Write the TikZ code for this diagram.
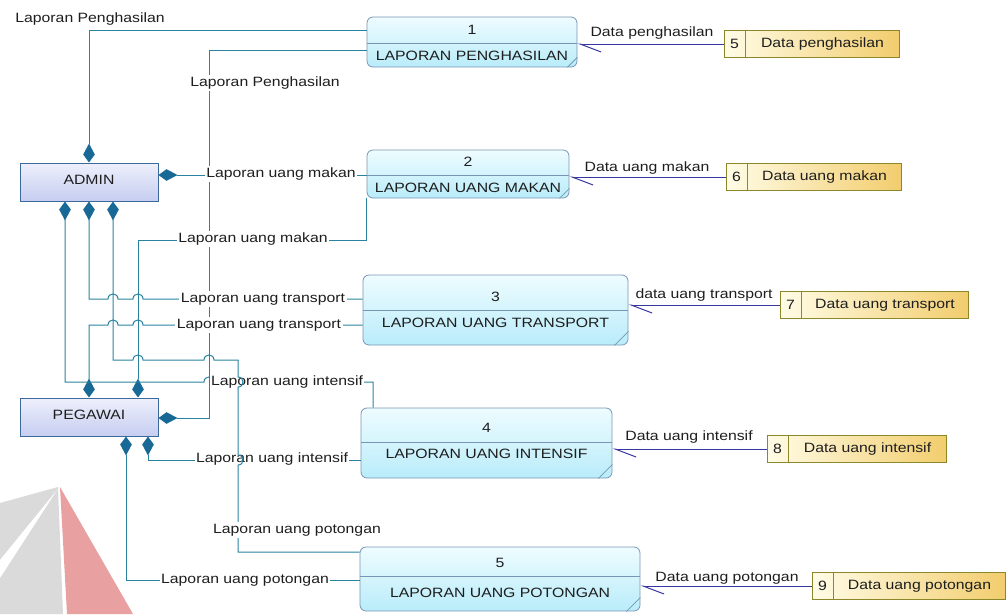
\documentclass[tikz,border=0pt]{standalone}
\usepackage{fontspec}
\setmainfont{Liberation Sans}[FakeStretch=1.17]
\usetikzlibrary{arrows.meta,calc}

\definecolor{flowc}{RGB}{40,130,160}
\definecolor{tipc}{RGB}{25,105,150}
\definecolor{dflowc}{RGB}{55,55,160}
\definecolor{txt}{RGB}{30,30,30}
\definecolor{entb}{RGB}{60,105,155}
\definecolor{entt}{RGB}{238,240,252}
\definecolor{entbo}{RGB}{198,205,240}
\definecolor{procb}{RGB}{120,150,180}
\definecolor{proct}{RGB}{238,252,255}
\definecolor{procbo}{RGB}{185,236,250}
\definecolor{storeb}{RGB}{140,135,40}
\definecolor{storel}{RGB}{255,252,230}
\definecolor{storer}{RGB}{242,205,110}
\definecolor{wmgray}{RGB}{218,218,218}
\definecolor{wmred}{RGB}{232,160,160}

\begin{document}
\begin{tikzpicture}[x=1pt,y=-1pt,
  font=\fontsize{13.5}{15}\selectfont, text=txt,
  entity/.style={draw=entb, line width=1pt, top color=entt, bottom color=entbo,
    minimum width=138pt, minimum height=38pt, inner sep=0pt},
  proc/.style={draw=procb, line width=0.8pt, rounded corners=6pt, top color=proct,
    bottom color=procbo, inner sep=0pt},
  procline/.style={draw=procb, line width=0.8pt},
  store/.style={draw=storeb, line width=0.8pt, left color=storel, right color=storer,
    minimum height=27pt, inner sep=0pt},
  storeline/.style={draw=storeb, line width=0.8pt},
  flow/.style={draw=flowc, line width=1pt,
    -{Stealth[length=8pt,width=11pt,inset=-11pt,fill=tipc,color=tipc]}},
  dflow/.style={draw=dflowc, line width=1pt,
    -{Straight Barb[left,length=21pt,width=16pt]}},
  lbl/.style={fill=white, inner sep=1.5pt},
  tx/.style={inner sep=0pt}
]
\useasboundingbox (0,0) rectangle (1008,614);

% watermark
\fill[wmgray] (0,503) -- (58,487) -- (63,614) -- (0,614) -- cycle;
\fill[white] (0,560) -- (57,490) -- (0,578) -- cycle;
\fill[wmred] (60,487) -- (133,614) -- (67,614) -- cycle;

% entities
\node[entity] (admin) at (89,182) {\raisebox{4pt}{ADMIN}};
\node[entity] (peg) at (89,417) {\raisebox{5pt}{PEGAWAI}};

% processes
\node[proc, minimum width=210pt, minimum height=50pt] (p1) at (472,42) {};
\draw[procline] (0,43 -| p1.west) -- (0,43 -| p1.east);
\draw[procline] ([xshift=-10pt]p1.south east) -- ([yshift=10pt]p1.south east);
\node[tx] (p1num) at (472,30) {1};
\node[tx] (p1name) at (472,56) {LAPORAN PENGHASILAN};

\node[proc, minimum width=202pt, minimum height=48pt] (p2) at (468,174) {};
\draw[procline] (0,175 -| p2.west) -- (0,175 -| p2.east);
\draw[procline] ([xshift=-10pt]p2.south east) -- ([yshift=10pt]p2.south east);
\node[tx] (p2num) at (468,162) {2};
\node[tx] (p2name) at (468,188) {LAPORAN UANG MAKAN};

\node[proc, minimum width=265pt, minimum height=70pt] (p3) at (495.5,310) {};
\draw[procline] (0,310 -| p3.west) -- (0,310 -| p3.east);
\draw[procline] ([xshift=-14pt]p3.south east) -- ([yshift=14pt]p3.south east);
\node[tx] (p3num) at (495.5,297) {3};
\node[tx] (p3name) at (495.5,323) {LAPORAN UANG TRANSPORT};

\node[proc, minimum width=251pt, minimum height=70pt] (p4) at (486.5,443) {};
\draw[procline] (0,442 -| p4.west) -- (0,442 -| p4.east);
\draw[procline] ([xshift=-14pt]p4.south east) -- ([yshift=14pt]p4.south east);
\node[tx] (p4num) at (486.5,428) {4};
\node[tx] (p4name) at (486.5,454) {LAPORAN UANG INTENSIF};

\node[proc, minimum width=280pt, minimum height=64pt] (p5) at (500,579) {};
\draw[procline] (0,576 -| p5.west) -- (0,576 -| p5.east);
\draw[procline] ([xshift=-14pt]p5.south east) -- ([yshift=14pt]p5.south east);
\node[tx] (p5num) at (500,563) {5};
\node[tx] (p5name) at (500,593) {LAPORAN UANG POTONGAN};

% data stores
\node[store, minimum width=175pt] (s5) at (811.5,44) {};
\node[store, minimum width=175pt] (s6) at (813.5,177) {};
\node[store, minimum width=188pt] (s7) at (874,305) {};
\node[store, minimum width=179pt] (s8) at (856.5,449) {};
\node[store, minimum width=193pt] (s9) at (908.5,586) {};
\foreach \s/\n/\t in {s5/5/Data penghasilan, s6/6/Data uang makan, s7/7/Data uang transport, s8/8/Data uang intensif, s9/9/Data uang potongan}{
  \draw[storeline] ([xshift=22pt]\s.north west) -- ([xshift=22pt]\s.south west);
  \node[tx] (\s num) at ([xshift=11pt]\s.west) {\n};
  \node[tx] (\s name) at ($([xshift=22pt]\s.west)!0.5!(\s.east)$) {\t};
}

% data flows from stores
\draw[dflow] (s5.west) -- (s5.west -| p1.east);
\draw[dflow] (s6.west) -- (s6.west -| p2.east);
\draw[dflow] (s7.west) -- (s7.west -| p3.east);
\draw[dflow] (s8.west) -- (s8.west -| p4.east);
\draw[dflow] (s9.west) -- (s9.west -| p5.east);
\node[tx] (d1) at (652,33) {Data penghasilan};
\node[tx] (d2) at (647,168) {Data uang makan};
\node[tx] (d3) at (704,295) {data uang transport};
\node[tx] (d4) at (689,437) {Data uang intensif};
\node[tx] (d5) at (727,578) {Data uang potongan};

% P1 flows
\draw[flow] (0,30 -| p1.west) -- (89,30) -- (89,0 |- admin.north);
\draw[flow] (0,50 -| p1.west) -- (209,50) -- (209,418) -- (peg.east |- 0,418);
% P2 flows
\draw[flow] (0,175 -| p2.west) -- (admin.east |- 0,175);
\draw[flow] (p2.south west) -- (p2.south west |- 0,240) -- (138,240) -- (138,0 |- peg.north);
% P3 flows
\draw[flow] (0,299 -| p3.west) -- (143,299) .. controls (143,292.3) and (133,292.3) .. (133,299)
  -- (118,299) .. controls (118,292.3) and (108,292.3) .. (108,299) -- (89,299) -- (89,0 |- admin.south);
\draw[flow] (0,325 -| p3.west) -- (143,325) .. controls (143,318.3) and (133,318.3) .. (133,325)
  -- (118,325) .. controls (118,318.3) and (108,318.3) .. (108,325) -- (89,325) -- (89,0 |- peg.north);
% P4 flows
\draw[flow] (373,0 |- p4.north) -- (373,382) -- (214,382) .. controls (214,375.3) and (204,375.3) .. (204,382)
  -- (65,382) -- (65,0 |- admin.south);
\draw[flow] (0,460 -| p4.west) -- (148,460) -- (148,0 |- peg.south);

% labels P1-P4
\node[lbl] (l1a) at (90,19) {Laporan Penghasilan};
\node[lbl] (l1b) at (265,83) {Laporan Penghasilan};
\node[lbl] (l2a) at (281,174) {Laporan uang makan};
\node[lbl] (l2b) at (253,239) {Laporan uang makan};
\node[lbl] (l3a) at (263,299) {Laporan uang transport};
\node[lbl] (l3b) at (259,325) {Laporan uang transport};
\node[lbl] (l4a) at (287,382) {Laporan uang intensif};
\node[lbl] (l4b) at (272,459) {Laporan uang intensif};

% P5 flows
\draw[flow] (0,552 -| p5.west) -- (238,552) -- (238,465) .. controls (244.7,465) and (244.7,455) .. (238,455)
  -- (238,387) .. controls (244.7,387) and (244.7,377) .. (238,377) -- (238,360)
  -- (214,360) .. controls (214,353.3) and (204,353.3) .. (204,360)
  -- (143,360) .. controls (143,353.3) and (133,353.3) .. (133,360) -- (113,360) -- (113,0 |- admin.south);
\draw[flow] (0,580 -| p5.west) -- (126,580) -- (126,0 |- peg.south);
\node[lbl] (l5a) at (297,530) {Laporan uang potongan};
\node[lbl] (l5b) at (245,580) {Laporan uang potongan};
\end{tikzpicture}
\end{document}
